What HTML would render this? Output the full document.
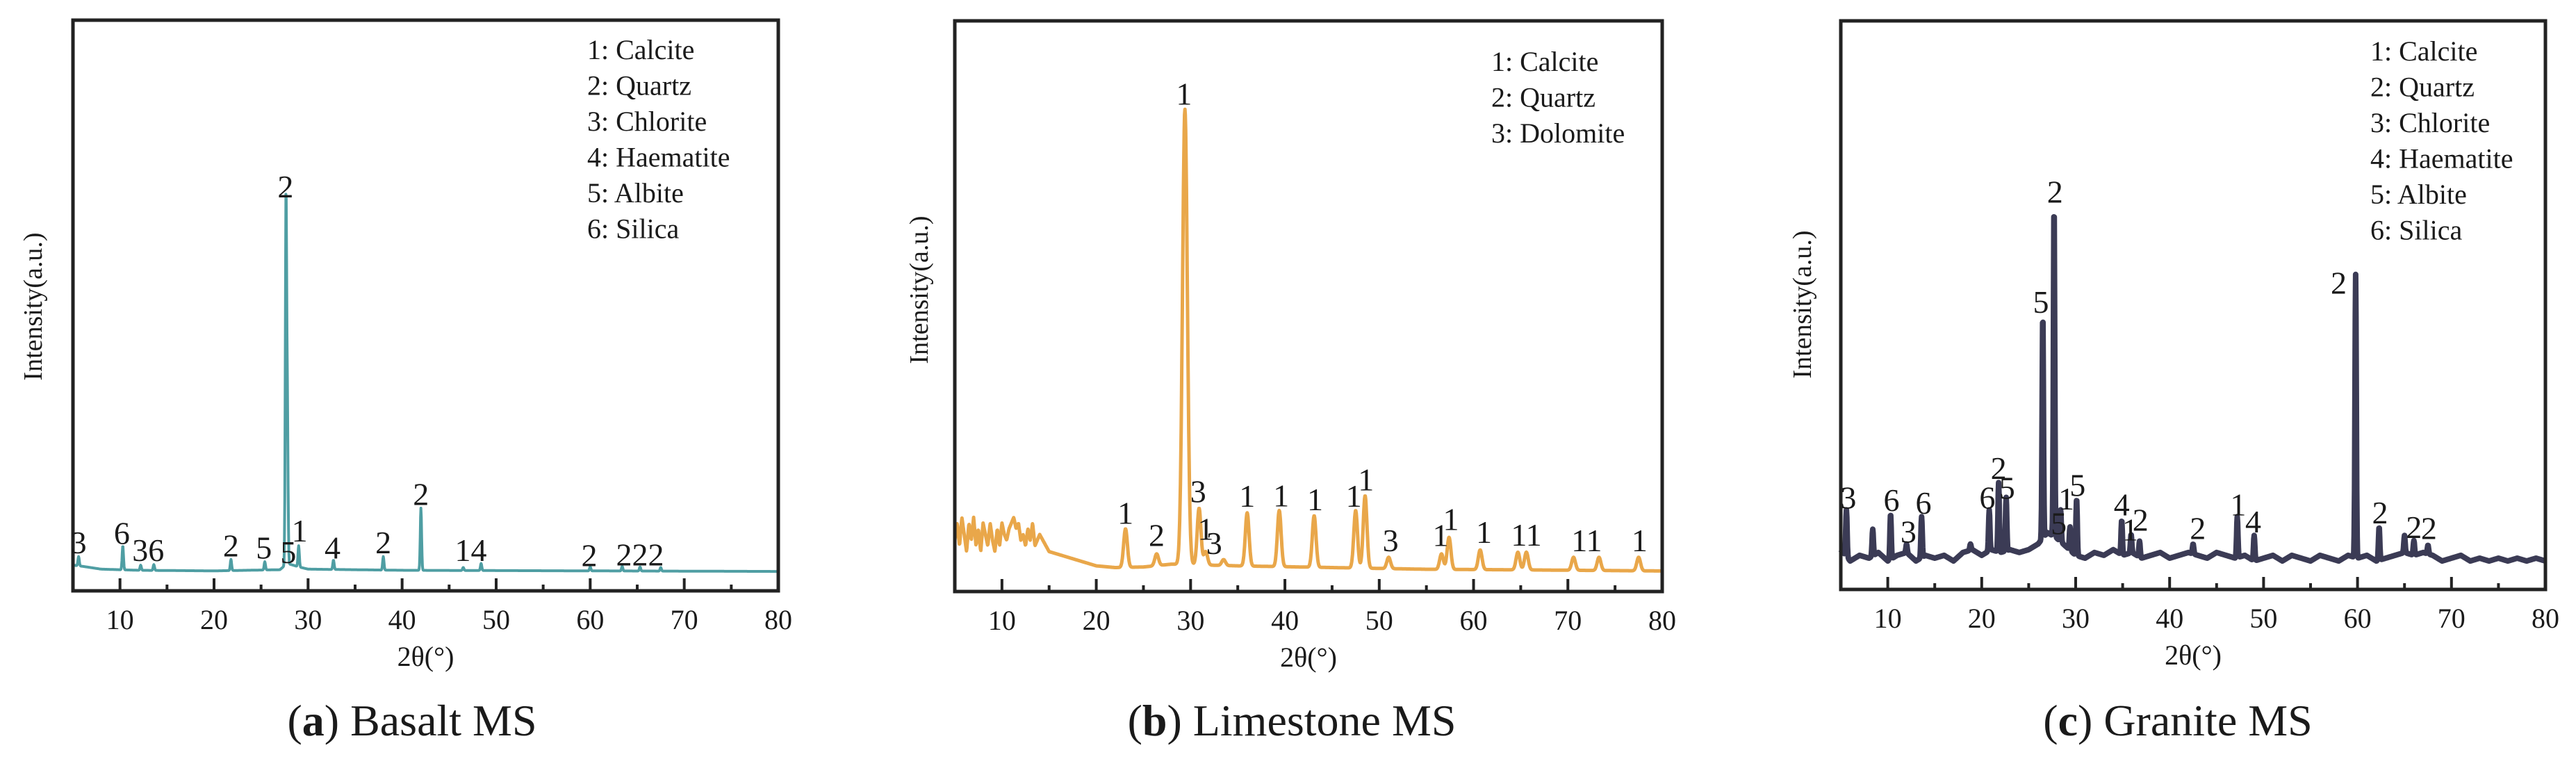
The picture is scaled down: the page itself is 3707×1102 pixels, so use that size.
<!DOCTYPE html>
<html><head><meta charset="utf-8">
<style>
html,body{margin:0;padding:0;background:#fff;}
svg{display:block;}
text{font-family:"Liberation Serif",serif;fill:#1a1a1a;}
</style></head>
<body>
<svg id="fig" width="3707" height="1102" viewBox="0 0 3707 1102"></svg>
<script>
// ---------- data (top level) ----------
// Basalt
const basaltBgX = [5,6,8,12,20,27,27.8,29,30,40,60,80];
const basaltBgY = [4.5,4.3,3.8,3.6,3.5,3.7,4.8,4.2,3.8,3.6,3.5,3.4];
const basaltPeakX = [5.6,10.3,12.2,13.6,21.8,25.4,27.65,27.8,29.0,32.7,38.0,42.0,46.5,48.4,60.0,63.4,65.3,67.5];
const basaltPeakY = [6.0,7.9,4.5,4.6,5.5,5.1,68.2,30,7.9,5.4,6.0,14.5,4.1,4.8,4.2,4.3,4.2,4.1];
const basaltLabels = ['3','6','36','2','5','5','1','4','2','2','2','14','2','222'];
const basaltLabelX = [5.6,10.2,13.0,21.8,25.3,27.9,29.1,32.6,38.0,42.0,27.6,47.3,59.9,65.3];
const basaltLabelY = [8.5,10.2,7.2,8.0,7.6,6.8,10.6,7.6,8.5,17.0,70.9,7.2,6.3,6.4];
const basaltLegend = ['1: Calcite','2: Quartz','3: Chlorite','4: Haematite','5: Albite','6: Silica'];
// Limestone
const limeBgX = [5,5.25,5.5,5.75,6,6.25,6.5,6.75,7,7.25,7.5,7.75,8,8.25,8.5,8.75,9,9.25,9.5,9.75,10,10.25,10.5,10.75,11,11.25,11.5,11.75,12,12.25,12.5,12.75,13,13.25,13.5,13.75,14,15,16,17,18,20,22,25,28,35,45,55,65,80];
const limeBgY = [9,12,8,13,10,7,12,9,13,8,11,7,12,10,8,12,9,7,11,8,12,10,9,11,12,13,11,12,9,10,8,11,9,12,8,9,10,7,6.5,6,5.5,4.5,4.2,4.3,4.8,4.5,4.2,3.9,3.8,3.6];
const limePeakX = [23.1,26.4,29.4,30.9,31.6,33.5,36.0,39.4,43.1,47.5,48.5,51.0,56.6,57.4,60.7,64.7,65.6,70.6,73.3,77.5];
const limePeakY = [11,6.6,84.5,14.6,7,5.6,13.8,14.2,13.3,14.2,16.8,6,6.6,9.5,7.3,6.9,6.9,6,6,6];
const limeLabels = ['1','1','2','3','1','3','1','1','1','1','1','3','1','1','1','11','11','1'];
const limeLabelX = [29.3,23.1,26.4,30.8,31.6,32.5,36.0,39.6,43.2,47.3,48.6,51.2,56.5,57.6,61.1,65.6,72.0,77.6];
const limeLabelY = [87.3,13.8,9.9,17.6,11,8.5,16.8,16.9,16.2,16.8,19.7,9,9.9,12.7,10.5,10,9,9];
const limeLegend = ['1: Calcite','2: Quartz','3: Dolomite'];
// Granite
const graniteBgX = [5,6,7,8,9,10,11,12,13,14,15,16,17,18,19,20,21,22,23,24,25,26,27,28,29,30,31,32,33,34,35,36,37,38,39,40,41,42,43,44,45,46,47,48,49,50,51,52,53,54,55,56,57,58,59,60,61,62,63,64,65,66,67,68,69,70,71,72,73,74,75,76,77,78,79,80];
const graniteBgY = [7,5,6,5.5,6.5,5,6,6.5,5,6,5.5,6,5,6.5,7,6,7,6.5,7,6.5,7,8,10,9,7.5,6,5.5,6.5,6,7,6,6.5,5.5,6,6.5,5.5,6,6.5,6,5.5,6.5,6,5.5,6,5,5.5,6,5,6,5.5,5,6,5.5,5,6,5.5,6,5,5.5,6,6.5,6,6.5,6,5,5.5,6,5,5.5,5,5.5,5,5.5,5,5.5,5];
const granitePeakX = [5.6,8.4,10.3,12.0,13.6,18.8,20.8,21.8,22.6,26.5,27.7,28.4,29.4,30.1,34.9,35.9,36.8,42.5,47.2,49.0,59.8,62.3,65.0,66.0,67.5];
const granitePeakY = [14,10.6,13.3,8,12.8,8,14,18.8,16.2,48.5,67.8,14,11,16,12.2,9.7,8.5,8,12.8,9.5,55.4,11,9.5,8.6,7.8];
const graniteLabels = ['3','6','3','6','6','2','5','5','2','5','1','5','4','1','2','2','1','4','2','2','2','2'];
const graniteLabelX = [5.8,10.4,12.2,13.8,20.6,21.8,22.7,26.3,27.8,28.2,29.0,30.2,34.9,35.8,36.9,43.0,47.3,48.9,58.0,62.4,66.0,67.6];
const graniteLabelY = [16.2,15.8,10.2,15.3,16.2,21.4,17.9,50.6,70,11.7,16,18.4,15,10.6,12.3,10.8,15,12,54,13.6,11,10.8];
const graniteLegend = ['1: Calcite','2: Quartz','3: Chlorite','4: Haematite','5: Albite','6: Silica'];
const xTicks = [10,20,30,40,50,60,70,80];

// ---------- drawing ----------
const NS='http://www.w3.org/2000/svg';
const svg=document.getElementById('fig');
function mk(tag,attrs,parent){const e=document.createElementNS(NS,tag);for(const k in attrs)e.setAttribute(k,attrs[k]);(parent||svg).appendChild(e);return e;}
function interp(xs,ys,x){if(x<=xs[0])return ys[0];for(let i=1;i<xs.length;i++){if(x<=xs[i]){const t=(x-xs[i-1])/(xs[i]-xs[i-1]);return ys[i-1]+t*(ys[i]-ys[i-1]);}}return ys[ys.length-1];}

function panel(cfg){
  const g=mk('g',{});
  
  
  const L=cfg.left,R=cfg.right,T=cfg.top,B=cfg.bottom;
  const sx=v=>L+(v-5)/75*(R-L);
  const sy=v=>B-v/100*(B-T);
  let d='';
  for(let x=5;x<=80.0001;x+=0.04){
    const bg=interp(cfg.bgX,cfg.bgY,x);
    let y=bg;
    for(let i=0;i<cfg.px.length;i++){
      const amp=Math.max(0,cfg.py[i]-interp(cfg.bgX,cfg.bgY,cfg.px[i]));
      const w=cfg.pw*(cfg.py[i]>40?cfg.mainW:1);
      y+=amp*Math.exp(-Math.pow((x-cfg.px[i])/w,2));
    }
    d+=(d?'L':'M')+sx(x).toFixed(1)+','+sy(y).toFixed(1);
  }
  const line=mk('path',{d:d,fill:'none',stroke:cfg.color,'stroke-width':cfg.sw,'stroke-linejoin':'round'},g);
  
  
  const fr=mk('rect',{x:L,y:T,width:R-L,height:B-T,fill:'none',stroke:'#222','stroke-width':5},g);
  
  
  for(let v=10;v<=80;v+=5){
    const major=v%10===0;
    const t=mk('line',{x1:sx(v),x2:sx(v),y1:B,y2:B-(major?18:9),stroke:'#222','stroke-width':4},g);
    
    
  }
  xTicks.forEach(v=>{
    const t=mk('text',{x:sx(v),y:B+55,'font-size':40,'text-anchor':'middle'},g);
    t.textContent=v;
    
    
  });
  const xt=mk('text',{x:(L+R)/2,y:B+108,'font-size':40,'text-anchor':'middle'},g);
  xt.textContent='2θ(°)';
  
  
  const yt=mk('text',{x:0,y:0,'font-size':38,'text-anchor':'middle',transform:`translate(${cfg.ytx},${cfg.yty}) rotate(-90)`},g);
  yt.textContent='Intensity(a.u.)';
  
  
  cfg.labels.forEach((s,i)=>{
    const t=mk('text',{x:sx(cfg.lx[i]),y:sy(cfg.ly[i])+16,'font-size':46,'text-anchor':'middle'},g);
    t.textContent=s;
    
    
  });
  cfg.legend.forEach((s,i)=>{
    const t=mk('text',{x:cfg.legX,y:cfg.legY+i*51.5+14,'font-size':40},g);
    t.textContent=s;
    
    
  });
  const c=mk('text',{x:cfg.capX,y:1058,'font-size':64,'text-anchor':'middle'},g);
  
  
  const b1=mk('tspan',{},c);b1.textContent='(';
  const b2=mk('tspan',{'font-weight':'bold'},c);b2.textContent=cfg.letter;
  const b3=mk('tspan',{},c);b3.textContent=') '+cfg.capText;
}

panel({name:'basalt-panel',left:105,right:1120,top:29,bottom:850,color:'#4f9ea3',sw:4,
  bgX:basaltBgX,bgY:basaltBgY,px:basaltPeakX,py:basaltPeakY,pw:0.1,mainW:1,
  labels:basaltLabels,lx:basaltLabelX,ly:basaltLabelY,legend:basaltLegend,legX:845,legY:71,
  ytx:60,yty:441,capX:593,letter:'a',capText:'Basalt MS'});
panel({name:'limestone-panel',left:1374,right:2392,top:30,bottom:851,color:'#e9a74a',sw:5,
  bgX:limeBgX,bgY:limeBgY,px:limePeakX,py:limePeakY,pw:0.28,mainW:1.3,
  labels:limeLabels,lx:limeLabelX,ly:limeLabelY,legend:limeLegend,legX:2146,legY:88,
  ytx:1335,yty:417,capX:1859,letter:'b',capText:'Limestone MS'});
panel({name:'granite-panel',left:2649,right:3663,top:30,bottom:848,color:'#3b3b55',sw:8,
  bgX:graniteBgX,bgY:graniteBgY,px:granitePeakX,py:granitePeakY,pw:0.1,mainW:1,
  labels:graniteLabels,lx:graniteLabelX,ly:graniteLabelY,legend:graniteLegend,legX:3411,legY:73,
  ytx:2606,yty:438,capX:3134,letter:'c',capText:'Granite MS'});
</script>
</body></html>
